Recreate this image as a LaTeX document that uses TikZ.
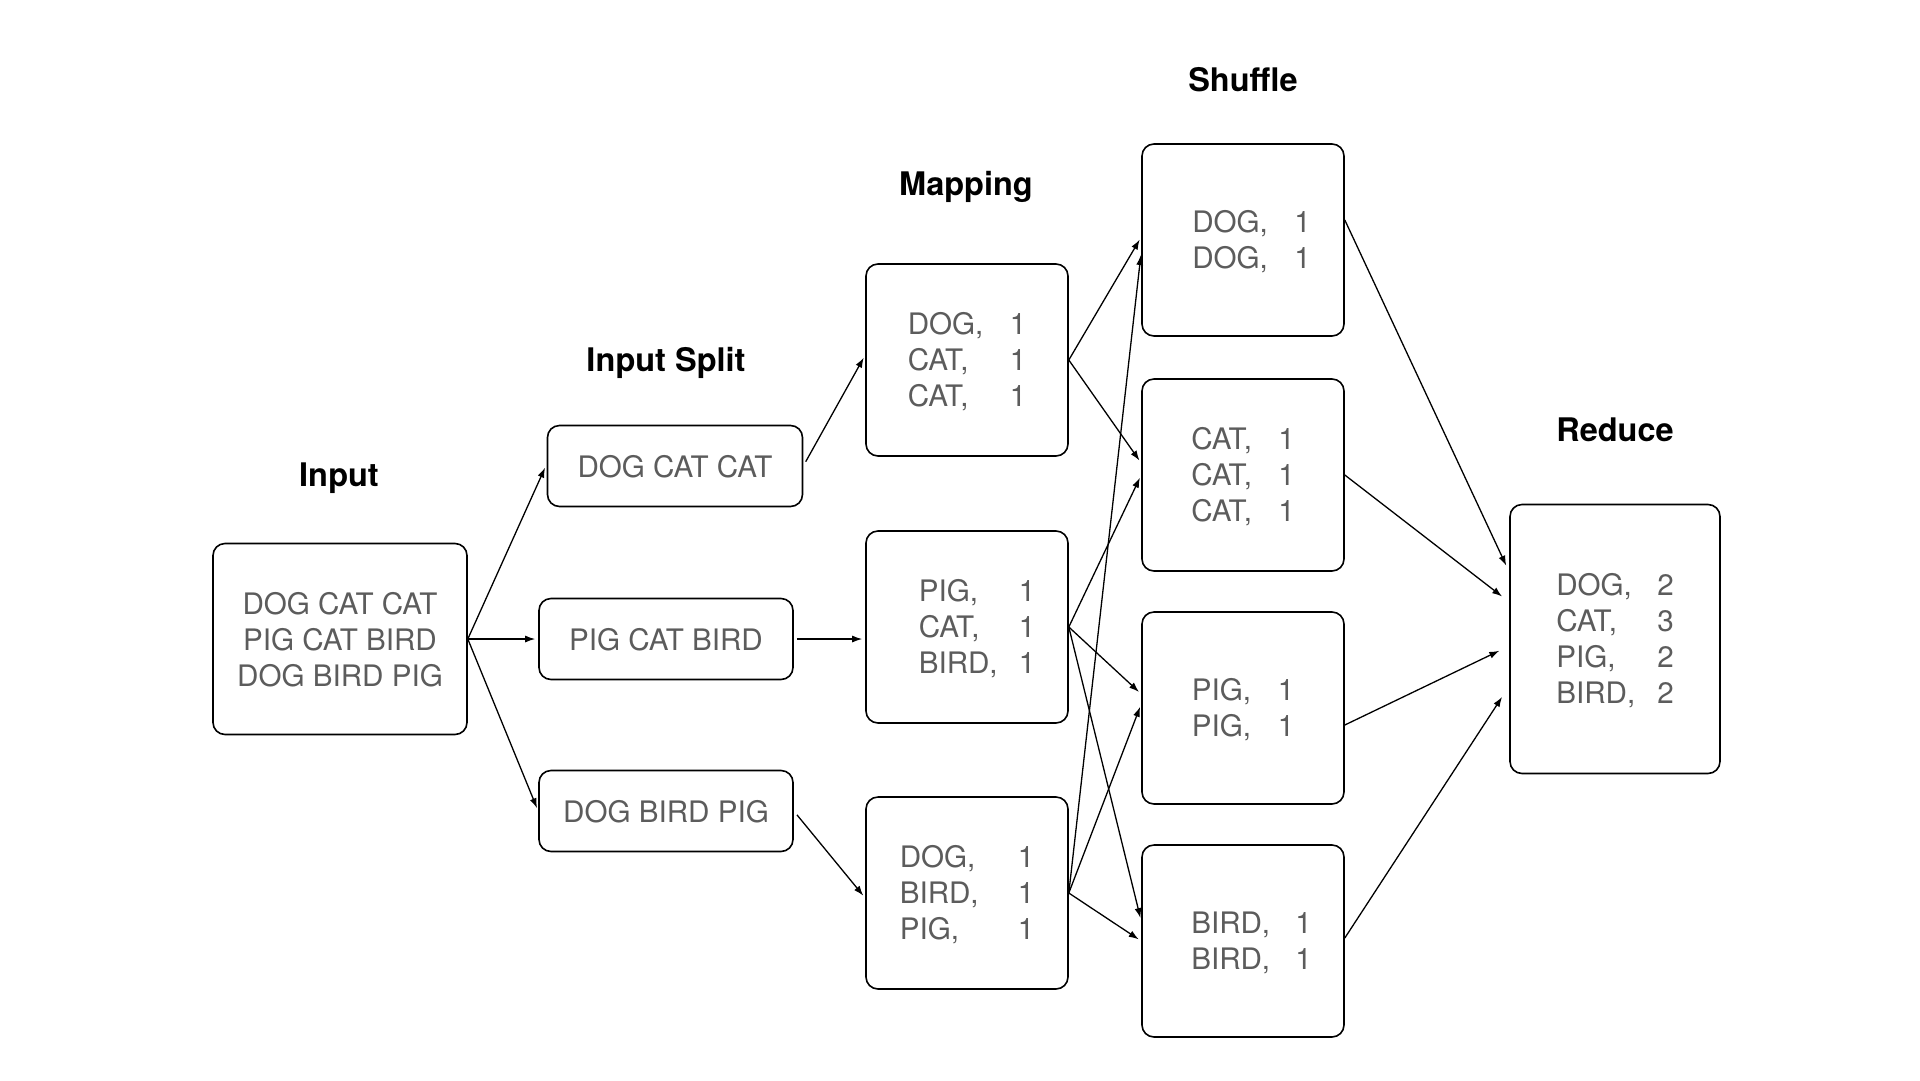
\documentclass[tikz,border=0pt]{standalone}
\usepackage{fontspec}
\setmainfont{TeX Gyre Heros}
\usetikzlibrary{arrows.meta}
\definecolor{txtgray}{RGB}{92,92,92}
% key/value line: [right offset]{word column width}{word}{number}
\newcommand\kv[4][0pt]{\hspace*{#1}\raisebox{-2pt}[\height][\depth]{\makebox[#2][l]{#3}#4}}
\newcommand\txline[1]{\raisebox{-1pt}[\height][\depth]{#1}}
\begin{document}
\begin{tikzpicture}[x=1pt,y=-1pt,
  box/.style={draw, line width=1.6pt, rounded corners=12pt, inner sep=0pt, text=txtgray, align=center, font=\fontsize{29.6}{36}\selectfont},
  ttl/.style={font=\bfseries\fontsize{32.5}{36}\selectfont, text=black, inner sep=0pt},
  arr/.style={-{Latex[length=10pt,width=7pt]}, line width=1.3pt, shorten >=3pt}]
\useasboundingbox[fill=white] (0,0) rectangle (1920,1080);

% titles
\node[ttl] (tin) at (339,478) {Input};
\node[ttl] (tsp) at (666,363) {Input Split};
\node[ttl] (tmp) at (966,187) {Mapping};
\node[ttl] (tsh) at (1243,80) {Shuffle};
\node[ttl] (tre) at (1615,430) {Reduce};

% input
\node[box, minimum width=254pt, minimum height=191pt] (in) at (340,639)
  {\txline{DOG CAT CAT}\\\txline{PIG CAT BIRD}\\\txline{DOG BIRD PIG}};

% splits
\node[box, minimum width=255pt, minimum height=81pt] (s1) at (675,466) {\txline{DOG CAT CAT}};
\node[box, minimum width=254pt, minimum height=81pt] (s2) at (666,639) {\txline{PIG CAT BIRD}};
\node[box, minimum width=254pt, minimum height=81pt] (s3) at (666,811) {\txline{DOG BIRD PIG}};

% mapping
\node[box, minimum width=202pt, minimum height=192pt] (m1) at (967,360)
  {\kv{102pt}{DOG,}{1}\\\kv{102pt}{CAT,}{1}\\\kv{102pt}{CAT,}{1}};
\node[box, minimum width=202pt, minimum height=192pt] (m2) at (967,627)
  {\kv[20pt]{100pt}{PIG,}{1}\\\kv[20pt]{100pt}{CAT,}{1}\\\kv[20pt]{100pt}{BIRD,}{1}};
\node[box, minimum width=202pt, minimum height=192pt] (m3) at (967,893)
  {\kv{118pt}{DOG,}{1}\\\kv{118pt}{BIRD,}{1}\\\kv{118pt}{PIG,}{1}};

% shuffle
\node[box, minimum width=202pt, minimum height=192pt] (sh1) at (1243,240)
  {\kv[17pt]{102pt}{DOG,}{1}\\\kv[17pt]{102pt}{DOG,}{1}};
\node[box, minimum width=202pt, minimum height=192pt] (sh2) at (1243,475)
  {\kv{87pt}{CAT,}{1}\\\kv{87pt}{CAT,}{1}\\\kv{87pt}{CAT,}{1}};
\node[box, minimum width=202pt, minimum height=192pt] (sh3) at (1243,708)
  {\kv{86pt}{PIG,}{1}\\\kv{86pt}{PIG,}{1}};
\node[box, minimum width=202pt, minimum height=192pt] (sh4) at (1243,941)
  {\kv[17pt]{104pt}{BIRD,}{1}\\\kv[17pt]{104pt}{BIRD,}{1}};

% reduce
\node[box, minimum width=210pt, minimum height=269pt] (r) at (1615,639)
  {\kv{101pt}{DOG,}{2}\\\kv{101pt}{CAT,}{3}\\\kv{101pt}{PIG,}{2}\\\kv{101pt}{BIRD,}{2}};

% input -> splits
\draw[arr, shorten >=4pt] (in.east) -- ([yshift=2pt]s1.west);
\draw[arr] (in.east) -- (s2.west);
\draw[arr] (in.east) -- (s3.west);

% splits -> mapping
\draw[arr, shorten <=5pt] (s1.east) -- ([yshift=5pt]m1.west);
\draw[arr, shorten <=3pt] (s2.east) -- (s2.east -| m2.west);
\draw[arr, shorten <=5pt] (s3.east) -- ([yshift=-5pt]m3.west);

% mapping -> shuffle
\draw[arr] (m1.east) -- ([yshift=3pt]sh1.west);
\draw[arr] (m1.east) -- ([yshift=12pt]sh2.west);
\draw[arr] (m2.east) -- (sh2.west);
\draw[arr] (m2.east) -- ([yshift=14pt]sh3.west);
\draw[arr] (m2.east) -- ([yshift=20pt]sh4.west);
\draw[arr] (m3.east) -- ([yshift=-12pt]sh1.west);
\draw[arr] (m3.east) -- ([yshift=4pt]sh3.west);
\draw[arr] (m3.east) -- (sh4.west);

% shuffle -> reduce
\draw[arr, shorten >=7pt] ([yshift=20pt]sh1.east) -- ([yshift=67pt]r.west);
\draw[arr, shorten >=9pt] (sh2.east) -- ([yshift=37pt]r.west);
\draw[arr, shorten >=11pt] ([yshift=-17pt]sh3.east) -- ([yshift=-7pt]r.west);
\draw[arr, shorten >=13pt] ([yshift=3pt]sh4.east) -- ([yshift=-47pt]r.west);
\end{tikzpicture}
\end{document}
